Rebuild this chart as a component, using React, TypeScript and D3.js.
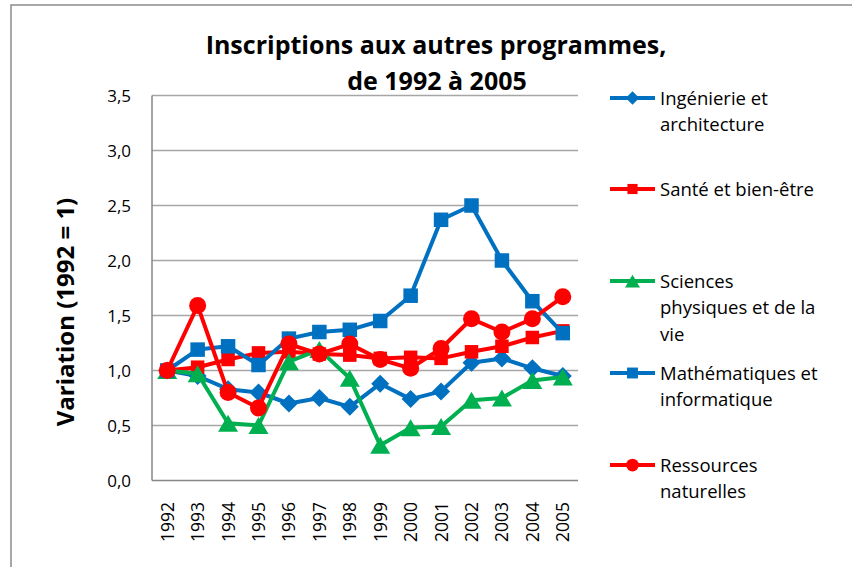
import React, { useEffect, useRef } from "react";
import * as d3 from "d3";

const years = ["1992","1993","1994","1995","1996","1997","1998","1999","2000","2001","2002","2003","2004","2005"];
const ingenierie = [1.0, 0.95, 0.83, 0.80, 0.70, 0.75, 0.67, 0.88, 0.74, 0.81, 1.07, 1.11, 1.02, 0.95];
const sante = [1.0, 1.03, 1.10, 1.16, 1.17, 1.15, 1.14, 1.11, 1.12, 1.11, 1.17, 1.22, 1.30, 1.36];
const sciences = [1.0, 0.97, 0.52, 0.50, 1.08, 1.19, 0.93, 0.32, 0.48, 0.49, 0.73, 0.75, 0.91, 0.94];
const mathematiques = [1.0, 1.19, 1.22, 1.05, 1.29, 1.35, 1.37, 1.45, 1.68, 2.37, 2.50, 2.00, 1.63, 1.34];
const ressources = [1.0, 1.59, 0.80, 0.66, 1.24, 1.15, 1.24, 1.10, 1.02, 1.20, 1.47, 1.35, 1.47, 1.67];
const yTicks = [0, 0.5, 1, 1.5, 2, 2.5, 3, 3.5];

const seriesNames = [
  ["Ingénierie et", "architecture"],
  ["Santé et bien-être"],
  ["Sciences", "physiques et de la", "vie"],
  ["Mathématiques et", "informatique"],
  ["Ressources", "naturelles"],
];

const BLUE = "#0070C0";
const RED = "#FF0000";
const GREEN = "#00B050";
const FONT = "'Open Sans', 'Liberation Sans', sans-serif";

export default function App() {
  const ref = useRef<SVGSVGElement>(null);
  useEffect(() => {
    const svg = d3.select(ref.current);
    svg.selectAll("*").remove();
    const W = 852, H = 567;
    const left = 152, right = 578, top = 95.5, bottom = 480.5;

    svg.append("rect").attr("x", 0).attr("y", 0).attr("width", W).attr("height", H).attr("fill", "#fff");
    // outer border (only top/left visible)
    svg.append("rect").attr("x", 11).attr("y", 5).attr("width", 900).attr("height", 700)
      .attr("fill", "none").attr("stroke", "#8c8c8c").attr("stroke-width", 1.5);

    const x = d3.scaleBand().domain(years).range([left, right]);
    const y = d3.scaleLinear().domain([0, 3.5]).range([bottom, top]);

    // gridlines
    svg.append("g").selectAll("line").data(yTicks.filter(t => t > 0)).join("line")
      .attr("x1", left).attr("x2", right)
      .attr("y1", d => y(d)).attr("y2", d => y(d))
      .attr("stroke", "#a6a6a6").attr("stroke-width", 1.3);

    // axes
    svg.append("line").attr("x1", left).attr("x2", left).attr("y1", top).attr("y2", bottom)
      .attr("stroke", "#868686").attr("stroke-width", 1.5);
    svg.append("line").attr("x1", left).attr("x2", right).attr("y1", bottom).attr("y2", bottom)
      .attr("stroke", "#868686").attr("stroke-width", 1.5);

    // y tick labels
    svg.append("g").selectAll("text").data(yTicks).join("text")
      .attr("x", 131).attr("y", d => y(d) + 6)
      .attr("text-anchor", "end").attr("font-family", FONT).attr("font-size", 17).attr("fill", "#000")
      .text(d => d3.format(".1f")(d).replace(".", ","));

    // x tick labels
    svg.append("g").selectAll("text").data(years).join("text")
      .attr("transform", d => `translate(${x(d)! + x.bandwidth() / 2 + 6.5},502) rotate(-90)`)
      .attr("text-anchor", "end").attr("font-family", FONT).attr("font-size", 17.5).attr("fill", "#000")
      .text(d => d);

    // y axis title
    svg.append("text")
      .attr("transform", `translate(74,312) rotate(-90)`)
      .attr("text-anchor", "middle").attr("font-family", FONT).attr("font-size", 24)
      .attr("font-weight", "bold").text("Variation (1992 = 1)");

    // title
    const title = svg.append("text").attr("text-anchor", "middle").attr("font-family", FONT)
      .attr("font-size", 25).attr("font-weight", "bold");
    title.append("tspan").attr("x", 436).attr("y", 54).text("Inscriptions aux autres programmes,");
    title.append("tspan").attr("x", 437).attr("y", 90).text("de 1992 à 2005");

    const cx = (i: number) => x(years[i])! + x.bandwidth() / 2;
    const series = [
      { data: ingenierie, color: BLUE, marker: "diamond" },
      { data: sante, color: RED, marker: "square" },
      { data: sciences, color: GREEN, marker: "triangle" },
      { data: mathematiques, color: BLUE, marker: "square2" },
      { data: ressources, color: RED, marker: "circle" },
    ];

    const drawMarker = (g: any, kind: string, px: number, py: number, color: string, scale = 1) => {
      if (kind === "circle") {
        g.append("circle").attr("cx", px).attr("cy", py).attr("r", 8.5 * scale).attr("fill", color);
      } else if (kind === "square" || kind === "square2") {
        const s = (kind === "square2" ? 14.5 : 13.5) * scale;
        g.append("rect").attr("x", px - s / 2).attr("y", py - s / 2).attr("width", s).attr("height", s).attr("fill", color);
      } else if (kind === "diamond") {
        const s = 9 * scale;
        g.append("path").attr("d", `M${px},${py - s}L${px + s},${py}L${px},${py + s}L${px - s},${py}Z`).attr("fill", color);
      } else if (kind === "triangle") {
        const w = 10 * scale, h = 8.5 * scale;
        g.append("path").attr("d", `M${px},${py - h}L${px + w},${py + h}L${px - w},${py + h}Z`).attr("fill", color);
      }
    };

    const line = d3.line<number>().x((_, i) => cx(i)).y(d => y(d));
    series.forEach(s => {
      const g = svg.append("g");
      g.append("path").attr("d", line(s.data)).attr("fill", "none")
        .attr("stroke", s.color).attr("stroke-width", 4).attr("stroke-linejoin", "round");
      s.data.forEach((v, i) => drawMarker(g, s.marker, cx(i), y(v), s.color));
    });

    // legend
    const legendY = [98, 189, 281, 373, 465];
    series.forEach((s, k) => {
      const g = svg.append("g");
      const ly = legendY[k];
      g.append("line").attr("x1", 610).attr("x2", 655).attr("y1", ly).attr("y2", ly)
        .attr("stroke", s.color).attr("stroke-width", 4);
      drawMarker(g, s.marker, 632.5, ly, s.color, 0.75);
      const t = g.append("text").attr("font-family", FONT).attr("font-size", 18.5).attr("fill", "#000");
      seriesNames[k].forEach((ln, j) => {
        t.append("tspan").attr("x", 660).attr("y", ly + 6.5 + j * 26.5).text(ln);
      });
    });
  }, []);
  return <svg ref={ref} width={852} height={567} style={{ position: "absolute", left: 0, top: 0, display: "block" }} />;
}
